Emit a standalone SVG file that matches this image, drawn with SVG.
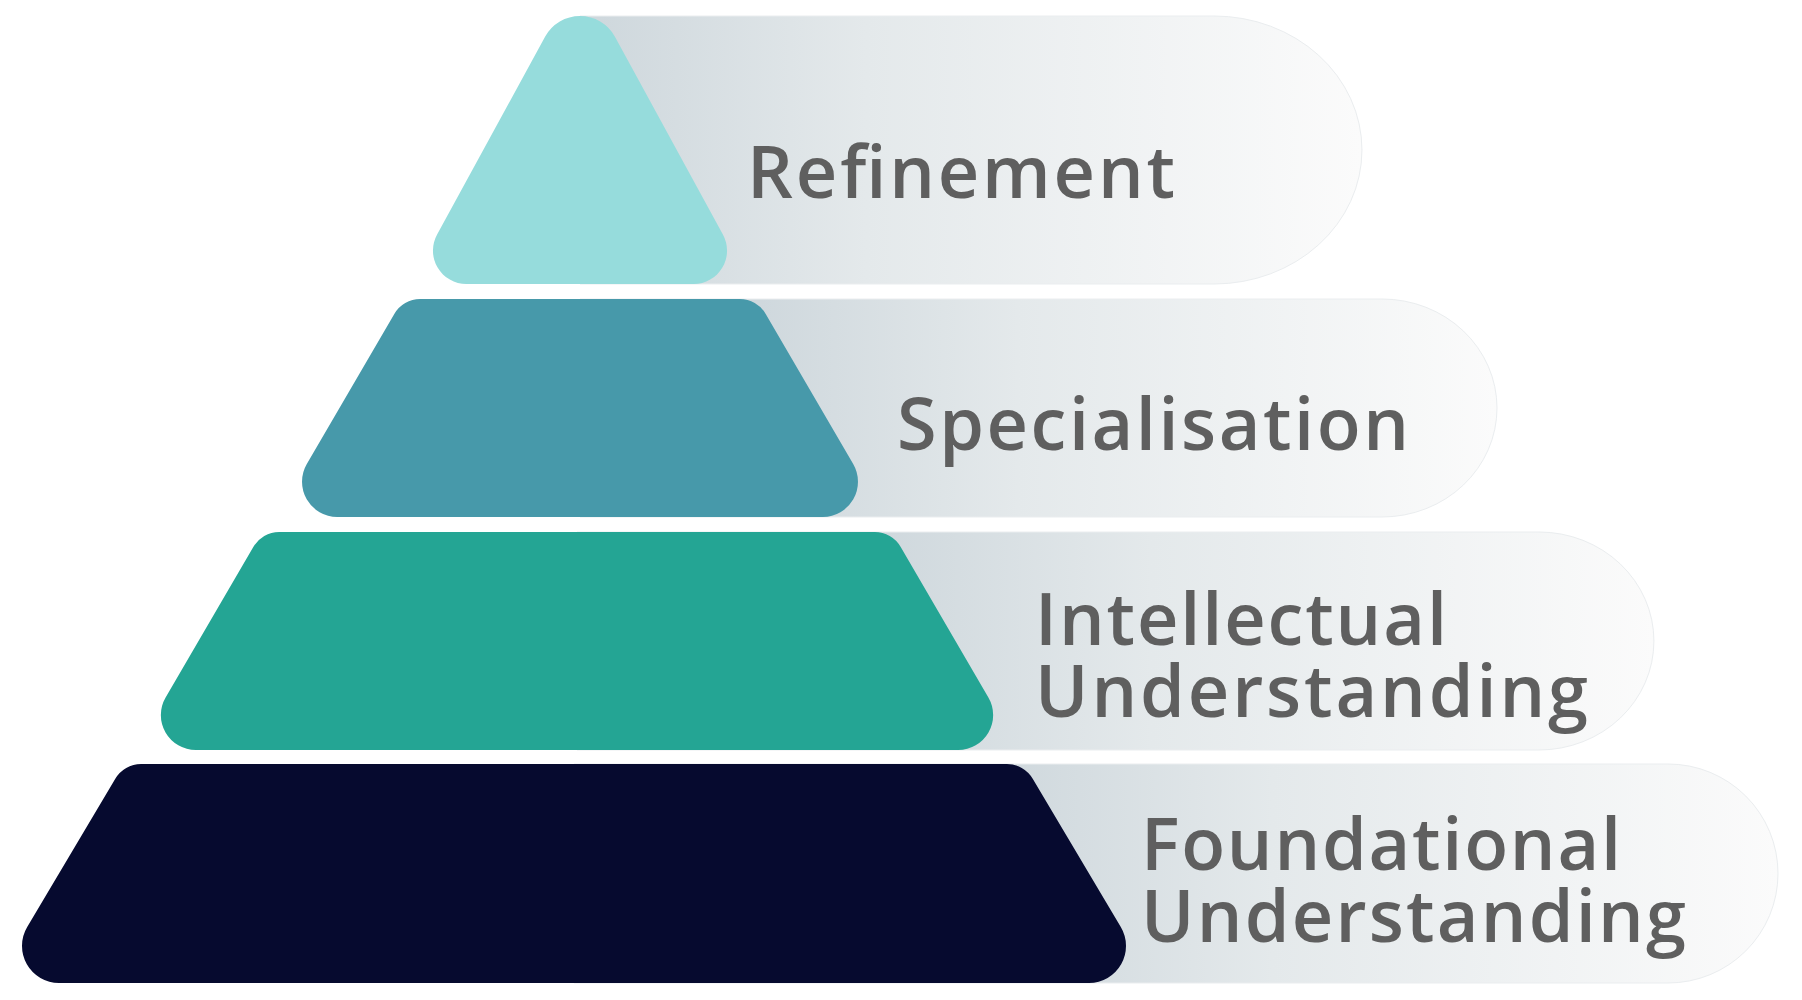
<svg xmlns="http://www.w3.org/2000/svg" width="1802" height="1000" viewBox="0 0 1802 1000">
  <style>
    .lbl { font-family: "Open Sans", "Liberation Sans", sans-serif; font-weight: 600; font-size: 72px; fill: #5f5f5f; }
    .pill { stroke: #eaedef; stroke-width: 1; }
  </style>
  <defs>
    <linearGradient id="g1" gradientUnits="userSpaceOnUse" x1="600" y1="0" x2="1362" y2="0">
      <stop offset="0" stop-color="#cfd8dd"/><stop offset="0.35" stop-color="#e4e9eb"/><stop offset="1" stop-color="#fbfbfb"/>
    </linearGradient>
    <linearGradient id="g2" gradientUnits="userSpaceOnUse" x1="760" y1="0" x2="1497" y2="0">
      <stop offset="0" stop-color="#cfd8dd"/><stop offset="0.35" stop-color="#e4e9eb"/><stop offset="1" stop-color="#fbfbfb"/>
    </linearGradient>
    <linearGradient id="g3" gradientUnits="userSpaceOnUse" x1="880" y1="0" x2="1654" y2="0">
      <stop offset="0" stop-color="#cfd8dd"/><stop offset="0.35" stop-color="#e4e9eb"/><stop offset="1" stop-color="#fbfbfb"/>
    </linearGradient>
    <linearGradient id="g4" gradientUnits="userSpaceOnUse" x1="1000" y1="0" x2="1778" y2="0">
      <stop offset="0" stop-color="#cfd8dd"/><stop offset="0.35" stop-color="#e4e9eb"/><stop offset="1" stop-color="#fbfbfb"/>
    </linearGradient>
  </defs>
  <rect width="1802" height="1000" fill="#ffffff"/>

  <g id="refinement">
    <path class="pill" d="M 580,16 H 1214 A 148 134 0 0 1 1214 284 H 580 Z" fill="url(#g1)"/>
    <path d="M 545.2,36.6 A 39.7 39.7 0 0 1 614.8,36.6 L 722.9,234.5 A 33.4 33.4 0 0 1 693.6,284 L 466.4,284 A 33.4 33.4 0 0 1 437.1,234.5 Z" fill="#96dcdc"/>
    <text class="lbl" x="747" y="198" textLength="428" lengthAdjust="spacing">Refinement</text>
  </g>

  <g id="specialisation">
    <path class="pill" d="M 580,299 H 1382 A 115 109 0 0 1 1382 517 H 580 Z" fill="url(#g2)"/>
    <path d="M 420.2,299 L 739.8,299 A 30 30 0 0 1 765.7,313.9 L 853.2,464.1 A 35.2 35.2 0 0 1 822.8,517 L 337.2,517 A 35.2 35.2 0 0 1 306.8,464.1 L 394.3,313.9 A 30 30 0 0 1 420.2,299 Z" fill="#4799aa"/>
    <text class="lbl" x="897" y="450" textLength="512" lengthAdjust="spacing">Specialisation</text>
  </g>

  <g id="intellectual">
    <path class="pill" d="M 577,532 H 1539 A 115 109 0 0 1 1539 750 H 577 Z" fill="url(#g3)"/>
    <path d="M 279.2,532 L 874.8,532 A 30 30 0 0 1 900.7,546.9 L 988.4,697.4 A 35 35 0 0 1 958.1,750 L 195.9,750 A 35 35 0 0 1 165.6,697.4 L 253.3,546.9 A 30 30 0 0 1 279.2,532 Z" fill="#24a594"/>
    <text class="lbl" x="1035" y="645" textLength="412" lengthAdjust="spacing">Intellectual</text>
    <text class="lbl" x="1035" y="717" textLength="553" lengthAdjust="spacing">Understanding</text>
  </g>

  <g id="foundational">
    <path class="pill" d="M 574,764 H 1668 A 110 109.5 0 0 1 1668 983 H 574 Z" fill="url(#g4)"/>
    <path d="M 141.1,764 L 1006.9,764 A 30 30 0 0 1 1032.7,778.7 L 1120.8,927.1 A 37 37 0 0 1 1089,983 L 59,983 A 37 37 0 0 1 27.2,927.1 L 115.3,778.7 A 30 30 0 0 1 141.1,764 Z" fill="#060a2f"/>
    <text class="lbl" x="1141" y="870" textLength="480" lengthAdjust="spacing">Foundational</text>
    <text class="lbl" x="1141" y="942" textLength="545" lengthAdjust="spacing">Understanding</text>
  </g>

  <g id="connectors"></g>
</svg>
